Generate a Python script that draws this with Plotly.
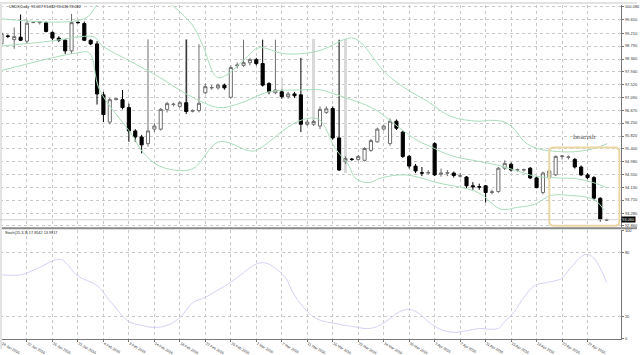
import plotly.graph_objects as go

# ---------------- data ----------------
bars = list(range(96))
opens = [98.86, 99.12, 99.00, 99.08, 98.95, 99.56, 99.56, 99.56, 99.24, 99.05,
         98.98, 98.63, 99.57, 99.53, 98.98, 98.86, 97.18, 96.28, 97.02, 97.02,
         96.76, 95.99, 95.79, 95.57, 96.05, 96.05, 96.70, 96.86, 96.80, 96.92,
         96.64, 96.66, 97.25, 97.41, 97.41, 97.50, 97.10, 98.14, 98.15, 98.24,
         98.34, 98.21, 97.55, 97.25, 97.28, 97.12, 97.21, 97.18, 96.21, 96.21,
         96.15, 96.60, 96.73, 95.76, 94.99, 95.06, 95.05, 95.02, 95.35, 95.63,
         96.05, 95.57, 96.31, 95.95, 95.15, 94.83, 94.61, 94.60, 95.57, 94.56,
         94.60, 94.60, 94.50, 94.47, 94.18, 94.15, 94.18, 93.96, 93.99, 94.76,
         94.89, 94.70, 94.70, 94.76, 94.44, 93.96, 94.44, 94.54, 95.15, 95.12,
         95.05, 94.80, 94.54, 94.45, 93.77, 93.06]
highs = [99.44, 99.17, 99.40, 99.83, 99.66, 99.58, 99.60, 99.60, 99.27, 99.11,
         99.01, 99.85, 99.60, 99.60, 99.01, 98.95, 97.28, 97.08, 97.08, 97.34,
         96.89, 96.05, 95.86, 99.01, 96.25, 96.75, 96.95, 96.92, 96.98, 99.00,
         96.70, 98.85, 97.55, 97.50, 97.55, 97.55, 98.15, 98.25, 99.00, 98.40,
         98.40, 99.00, 97.60, 99.00, 97.35, 97.28, 97.28, 98.40, 96.35, 96.35,
         96.80, 96.80, 96.80, 99.00, 95.15, 95.10, 95.20, 95.45, 95.73, 96.10,
         96.20, 96.40, 96.37, 96.00, 95.20, 94.90, 94.80, 94.70, 95.62, 94.75,
         94.70, 94.65, 94.60, 94.50, 94.30, 94.25, 94.20, 94.05, 94.80, 95.02,
         94.95, 94.75, 94.75, 94.80, 94.50, 94.65, 94.75, 95.18, 95.20, 95.18,
         95.10, 94.85, 94.60, 94.50, 93.80, 93.09]
lows = [98.69, 99.05, 98.70, 98.95, 98.89, 99.55, 99.50, 99.24, 98.98, 98.92,
        98.53, 98.53, 99.53, 98.95, 98.82, 96.86, 96.28, 96.21, 97.00, 96.70,
        95.63, 95.63, 95.25, 95.47, 95.95, 96.00, 96.60, 96.80, 96.75, 96.55,
        96.60, 96.60, 97.20, 97.35, 97.35, 97.35, 97.05, 98.05, 98.10, 98.15,
        98.15, 97.45, 97.20, 97.20, 97.05, 97.05, 97.08, 95.95, 96.15, 96.15,
        96.05, 96.55, 95.70, 94.67, 94.90, 95.00, 95.00, 94.98, 95.30, 95.60,
        96.00, 95.50, 96.02, 95.10, 94.75, 94.60, 94.50, 94.55, 94.50, 94.48,
        94.50, 94.45, 94.45, 94.10, 94.05, 94.05, 93.63, 93.90, 93.95, 94.70,
        94.65, 94.65, 94.65, 94.40, 94.10, 93.90, 94.40, 94.50, 95.05, 95.05,
        94.75, 94.50, 94.40, 93.70, 93.00, 93.04]
closes = [99.21, 99.11, 99.10, 98.98, 99.54, 99.57, 99.58, 99.27, 99.05, 98.98,
          98.63, 99.56, 99.56, 98.98, 98.86, 97.21, 96.53, 97.02, 97.05, 96.76,
          95.99, 95.79, 95.53, 95.99, 96.15, 96.70, 96.89, 96.87, 96.92, 96.63,
          96.66, 96.90, 97.45, 97.42, 97.50, 97.41, 98.08, 98.16, 98.24, 98.34,
          98.21, 97.50, 97.28, 97.34, 97.12, 97.21, 97.15, 96.21, 96.28, 96.30,
          96.70, 96.72, 95.76, 94.70, 95.08, 95.05, 95.15, 95.41, 95.67, 96.05,
          96.15, 96.31, 96.08, 95.15, 94.83, 94.67, 94.60, 94.62, 94.54, 94.60,
          94.61, 94.52, 94.51, 94.18, 94.15, 94.14, 93.96, 93.98, 94.76, 94.92,
          94.70, 94.71, 94.71, 94.44, 94.12, 94.60, 94.67, 95.15, 95.16, 95.13,
          94.80, 94.54, 94.45, 93.77, 93.08, 93.06]

# light grey spikes
spike_bars = [29, 44, 49, 54]
spike_low = [96.92, 97.10, 96.30, 94.60]
spike_high = [99.02, 97.75, 99.02, 99.02]

# Bollinger bands (bar index, price)
bb_up_x = [0, 13, 15.4, 20, 23, 26.3, 29.9, 31.5, 33.8, 35.2, 38.4, 40.4, 44.6, 49.8, 54, 55.2, 56.5, 60.2, 63.8, 67, 70.5, 74.8, 76.8, 79, 80.5, 82.1, 84.1, 87.3, 90.4, 93, 95.1]
bb_up_y = [99.69, 99.69, 100.24, 100.9, 100.9, 100.24, 99.50, 98.86, 97.76, 97.82, 98.40, 98.73, 98.53, 98.63, 99.02, 99.05, 98.89, 97.92, 97.34, 96.95, 96.47, 96.31, 96.34, 96.28, 96.05, 95.63, 95.41, 95.31, 95.31, 95.41, 95.57]
bb_mid_x = [0, 7.6, 13, 14.6, 15.9, 20, 24.8, 27.4, 29.9, 34.1, 37.3, 42, 46.6, 50.2, 51.8, 54.9, 58.1, 60.2, 62.3, 65.4, 67.4, 70.5, 74.8, 77.9, 81, 83.7, 87.3, 90.4, 93, 95]
bb_mid_y = [98.79, 98.95, 99.11, 99.08, 98.79, 98.31, 97.76, 97.41, 97.11, 96.76, 96.89, 97.28, 97.34, 97.34, 97.24, 97.02, 96.76, 96.47, 96.12, 95.66, 95.47, 95.18, 94.99, 94.86, 94.67, 94.50, 94.44, 94.41, 94.28, 94.12]
bb_low_x = [0, 11.8, 13.8, 15.4, 20.6, 22.1, 24.8, 29.9, 34.1, 38.8, 39.9, 46.6, 49.8, 52.4, 54.5, 55.5, 57.6, 59.6, 63.4, 68.5, 74.8, 78.4, 81, 83.7, 86.2, 89.3, 93, 94.6]
bb_low_y = [97.98, 98.56, 98.56, 97.34, 95.83, 95.31, 94.83, 94.73, 95.63, 95.34, 95.34, 96.31, 96.37, 95.41, 94.86, 94.44, 94.28, 94.44, 94.54, 94.28, 93.96, 93.41, 93.47, 93.57, 93.86, 93.86, 93.73, 93.39]

# Stochastic (bar index, value)
st_x = [0, 3, 6, 8.5, 9.5, 12, 15, 17, 20, 22, 24, 26, 28, 30, 32, 34, 36, 38, 40, 41.5, 43, 44.6, 46, 48, 49.5, 53, 55, 57.5, 59, 60.7, 62.3, 64, 65.4, 67, 69, 71, 73, 75, 78, 79, 80.5, 82, 83.7, 85.7, 87.7, 89.3, 91, 92, 93, 94, 95]
st_y = [59, 59, 66, 73, 73, 58, 49, 35, 15.5, 12, 10, 12, 19, 33, 38, 45, 52, 61, 69, 70, 65, 56, 40, 25, 18, 13, 11, 9, 11, 17, 24, 27, 23.6, 15.5, 8, 5.5, 7, 9, 9, 15.5, 24.5, 38, 49, 52, 55, 65, 76, 78, 74.5, 65, 52]

price_ticks = [100.080, 99.650, 99.210, 98.790, 98.360, 97.940, 97.520, 97.090, 96.670,
               96.250, 95.820, 95.400, 94.980, 94.550, 94.130, 93.710, 93.280, 92.860]
date_ticks = list(range(0, 96, 4))
date_labels = ["18 Jan 2016", "22 Jan 2016", "26 Jan 2016", "31 Jan 2016", "4 Feb 2016",
               "9 Feb 2016", "14 Feb 2016", "18 Feb 2016", "22 Feb 2016", "26 Feb 2016",
               "2 Mar 2016", "7 Mar 2016", "11 Mar 2016", "16 Mar 2016", "20 Mar 2016",
               "24 Mar 2016", "30 Mar 2016", "3 Apr 2016", "7 Apr 2016", "11 Apr 2016",
               "15 Apr 2016", "19 Apr 2016", "23 Apr 2016", "27 Apr 2016"]
stoch_ticks = [0, 20, 80, 100]
last_price = 93.06
box_x = [86.0, 97.0]
box_y = [92.86, 95.44]

# ---------------- figure ----------------
W, H = 640, 355
FONT = "Liberation Sans"
fig = go.Figure()

fig.add_trace(go.Bar(x=spike_bars, base=spike_low,
                     y=[h - l for h, l in zip(spike_high, spike_low)],
                     width=0.4, marker=dict(color="#d9d9d9", line=dict(width=0)),
                     xaxis="x", yaxis="y", showlegend=False, hoverinfo="skip"))

band_style = dict(color="#a9dcb9", width=1)
fig.add_trace(go.Scatter(x=bb_up_x, y=bb_up_y, mode="lines", line=dict(shape="spline", **band_style), showlegend=False))
fig.add_trace(go.Scatter(x=bb_mid_x, y=bb_mid_y, mode="lines", line=dict(shape="spline", **band_style), showlegend=False))
fig.add_trace(go.Scatter(x=bb_low_x, y=bb_low_y, mode="lines", line=dict(shape="spline", **band_style), showlegend=False))

fig.add_trace(go.Candlestick(
    x=bars, open=opens, high=highs, low=lows, close=closes,
    increasing=dict(line=dict(color="#6e6e6e", width=1), fillcolor="#ffffff"),
    decreasing=dict(line=dict(color="#000000", width=1), fillcolor="#000000"),
    whiskerwidth=0, showlegend=False, xaxis="x", yaxis="y"))

fig.add_trace(go.Scatter(x=st_x, y=st_y, mode="lines", xaxis="x2", yaxis="y2",
                         line=dict(color="#d2d2f4", width=1, shape="spline"), showlegend=False))

px_left, px_right = 0, 624
x_range = [(px_left - 1.5) / 6.4, (px_right - 1.5) / 6.4]
p_top_px, p_bot_px = 3, 231
ppu = 224 / (100.080 - 92.860)
y_range = [92.860 - (p_bot_px - 229) / ppu, 100.080 + (5 - p_top_px) / ppu]
s_top_px, s_bot_px = 233, 345
s_range = [0 - (s_bot_px - 344) / 1.1, 100 + (234 - s_top_px) / 1.1]

grid = dict(showgrid=True, gridcolor="#c9c9c9", griddash="dot", gridwidth=1)
tfont = dict(family=FONT, size=4, color="#333333")
dfont = dict(family=FONT, size=3.6, color="#333333")

fig.update_layout(
    width=W, height=H, margin=dict(l=0, r=0, t=0, b=0),
    paper_bgcolor="#ffffff", plot_bgcolor="#ffffff", showlegend=False,
    xaxis=dict(domain=[px_left / W, px_right / W], range=x_range, anchor="y",
               tickvals=date_ticks, showticklabels=False, ticks="", zeroline=False,
               rangeslider=dict(visible=False), **grid),
    yaxis=dict(domain=[1 - p_bot_px / H, 1 - p_top_px / H], range=y_range, side="right",
               anchor="x", tickvals=price_ticks, ticktext=[f"{v:.3f}" for v in price_ticks],
               tickfont=tfont, ticks="outside", ticklen=2, tickcolor="#777777",
               showline=True, linecolor="#777777", linewidth=1, zeroline=False, **grid),
    xaxis2=dict(domain=[px_left / W, px_right / W], range=x_range, anchor="y2",
                tickvals=date_ticks, ticktext=date_labels, tickfont=dfont,
                ticklabelposition="outside right", ticks="outside", ticklen=2,
                tickcolor="#777777", showline=True, linecolor="#777777", zeroline=False, **grid),
    yaxis2=dict(domain=[1 - s_bot_px / H, 1 - s_top_px / H], range=s_range, side="right",
                anchor="x2", tickvals=stoch_ticks, tickfont=tfont, ticks="outside", ticklen=2,
                tickcolor="#777777", showline=True, linecolor="#777777", zeroline=False, **grid),
    bargap=0,
)

# panel separator, frame bands
fig.add_shape(type="line", xref="paper", yref="paper", x0=0, x1=1,
              y0=1 - 231.5 / H, y1=1 - 231.5 / H, line=dict(color="#8a8a8a", width=2))
fig.add_shape(type="rect", xref="paper", yref="paper", x0=0, x1=2 / W, y0=0, y1=1,
              fillcolor="#e3e3e3", line=dict(width=0))
fig.add_shape(type="rect", xref="paper", yref="paper", x0=0, x1=1, y0=1 - 2 / H, y1=1,
              fillcolor="#e3e3e3", line=dict(width=0))
# bid line
fig.add_shape(type="line", xref="x", yref="y", x0=x_range[0], x1=x_range[1],
              y0=last_price, y1=last_price, line=dict(color="#d0d0d0", width=1))
# bearish box with rounded corners
x0, x1 = box_x
y0, y1 = box_y
rx, ry = 0.7, 0.15
box_path = (f"M {x0+rx},{y0} L {x1-rx},{y0} Q {x1},{y0} {x1},{y0+ry} "
            f"L {x1},{y1-ry} Q {x1},{y1} {x1-rx},{y1} L {x0+rx},{y1} "
            f"Q {x0},{y1} {x0},{y1-ry} L {x0},{y0+ry} Q {x0},{y0} {x0+rx},{y0} Z")
fig.add_shape(type="path", xref="x", yref="y", path=box_path,
              line=dict(color="#ead8a4", width=2))

fig.add_annotation(xref="paper", yref="y", x=px_right / W, y=last_price, xanchor="left",
                   text=f"{last_price:.3f}", showarrow=False, bgcolor="#000000",
                   font=dict(family=FONT, size=4, color="#ffffff"), borderpad=0)
fig.add_annotation(xref="x", yref="y", x=91.5, y=95.82, text="bearish", showarrow=False,
                   font=dict(family="DejaVu Serif", size=6, color="#555555"))
fig.add_annotation(xref="paper", yref="paper", x=7 / W, y=1 - 5 / H, xanchor="left",
                   yanchor="middle", text="USDX,Daily  93.037 93.082 93.036 93.082",
                   showarrow=False, font=dict(family=FONT, size=3.8, color="#222222"))
fig.add_annotation(xref="paper", yref="paper", x=3 / W, y=1 - 236 / H, xanchor="left",
                   yanchor="middle", text="Stoch(15,3,3) 17.8542 13.9917",
                   showarrow=False, font=dict(family=FONT, size=3.8, color="#222222"))

fig.write_html("out.html")
